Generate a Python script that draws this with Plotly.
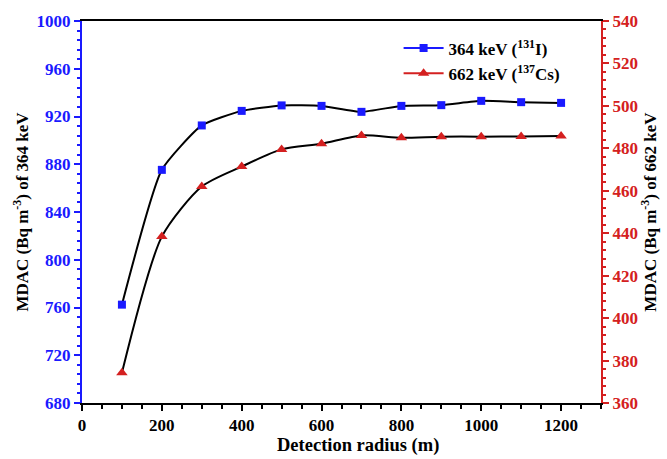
import plotly.graph_objects as go

# Detection radius (m)
radius = [100, 200, 300, 400, 500, 600, 700, 800, 900, 1000, 1100, 1200]
# MDAC of the 364 keV line (131I), Bq m^-3
mdac_364 = [762.4, 875.3, 912.5, 924.7, 929.3, 928.9, 923.9, 928.9, 929.5, 933.1, 932.0, 931.4]
# MDAC of the 662 keV line (137Cs), Bq m^-3
mdac_662 = [374.2, 438.4, 462.0, 471.4, 479.5, 482.2, 486.1, 485.0, 485.5, 485.5, 485.6, 485.8]

name_364 = "364 keV (<sup>131</sup>I)"
name_662 = "662 keV (<sup>137</sup>Cs)"
x_title = "Detection radius (m)"

BLUE = "#1a1aff"
RED = "#d42020"
FONT = "Liberation Serif"

fig = go.Figure()

# smooth black guide curves
fig.add_trace(go.Scatter(x=radius, y=mdac_364, mode="lines", yaxis="y",
                         line=dict(color="black", width=2, shape="spline", smoothing=0.5),
                         showlegend=False, hoverinfo="skip"))
fig.add_trace(go.Scatter(x=radius, y=mdac_662, mode="lines", yaxis="y2",
                         line=dict(color="black", width=2, shape="spline", smoothing=0.7),
                         showlegend=False, hoverinfo="skip"))

# data markers
fig.add_trace(go.Scatter(x=radius, y=mdac_364, mode="markers", yaxis="y",
                         marker=dict(symbol="square", size=8, color=BLUE),
                         showlegend=False))
fig.add_trace(go.Scatter(x=radius, y=mdac_662, mode="markers", yaxis="y2",
                         marker=dict(symbol="triangle-up", size=10, color=RED),
                         showlegend=False))

# legend entries (coloured line + marker)
fig.add_trace(go.Scatter(x=[None], y=[None], mode="lines+markers", name=name_364,
                         line=dict(color=BLUE, width=2),
                         marker=dict(symbol="square", size=8, color=BLUE)))
fig.add_trace(go.Scatter(x=[None], y=[None], mode="lines+markers", name=name_662,
                         line=dict(color=RED, width=2),
                         marker=dict(symbol="triangle-up", size=10, color=RED)))

fig.update_layout(
    width=667, height=459,
    margin=dict(l=82, r=66, t=19, b=56),
    paper_bgcolor="white", plot_bgcolor="white",
    font=dict(family=FONT, size=14, color="black"),
    xaxis=dict(
        range=[0, 1300], dtick=200, tick0=0,
        showgrid=False, zeroline=False,
        showline=True, linecolor="black", linewidth=2, mirror=True,
        ticks="outside", ticklen=6, tickwidth=2, tickcolor="black",
        minor=dict(dtick=50, ticks="outside", ticklen=4, tickwidth=2, tickcolor="black"),
        tickfont=dict(family=FONT, size=17, color="black", weight="bold"),
    ),
    yaxis=dict(
        range=[680, 1000], dtick=40, tick0=680,
        showgrid=False, zeroline=False,
        showline=True, linecolor=BLUE, linewidth=2,
        ticks="outside", ticklen=6, tickwidth=2, tickcolor=BLUE,
        minor=dict(dtick=8, ticks="outside", ticklen=3, tickwidth=2, tickcolor=BLUE),
        tickfont=dict(family=FONT, size=17, color=BLUE, weight="bold"),
        title=dict(text="<b>MDAC (Bq m<sup>-3</sup>) of 364 keV</b>", standoff=4,
                   font=dict(family=FONT, size=17, color="black")),
    ),
    yaxis2=dict(
        range=[360, 540], dtick=20, tick0=360,
        overlaying="y", side="right",
        showgrid=False, zeroline=False,
        showline=True, linecolor=RED, linewidth=2,
        ticks="outside", ticklen=6, tickwidth=2, tickcolor=RED,
        minor=dict(dtick=4, ticks="outside", ticklen=3, tickwidth=2, tickcolor=RED),
        tickfont=dict(family=FONT, size=17, color=RED, weight="bold"),
        title=dict(text="<b>MDAC (Bq m<sup>-3</sup>) of 662 keV</b>", standoff=4,
                   font=dict(family=FONT, size=17, color="black")),
    ),
    legend=dict(
        x=0.61, y=0.975, xanchor="left", yanchor="top",
        bgcolor="rgba(0,0,0,0)", borderwidth=0,
        font=dict(family=FONT, size=17, color="black", weight="bold"),
        tracegroupgap=4, itemwidth=40,
    ),
    annotations=[dict(
        text="<b>" + x_title + "</b>", xref="paper", yref="paper",
        x=0.532, y=-0.11, xanchor="center", yanchor="middle", showarrow=False,
        font=dict(family=FONT, size=18.5, color="black"),
    )],
    showlegend=True,
)

fig.write_html("out.html")
